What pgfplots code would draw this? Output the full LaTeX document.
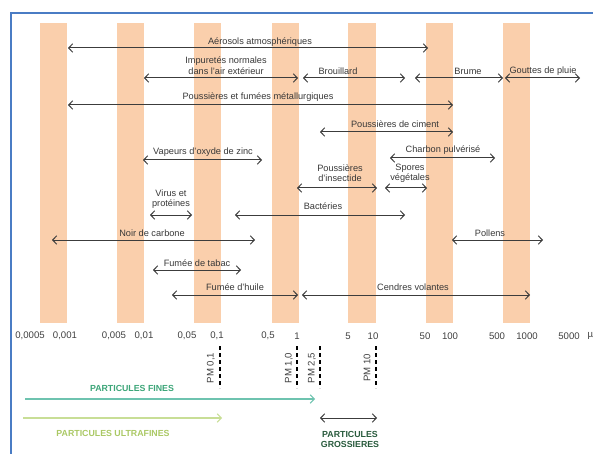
\documentclass[border=0pt]{standalone}
\usepackage{pgfplots}
\pgfplotsset{compat=1.18}
\usepackage{fontspec}
\setmainfont{Liberation Sans}
\usetikzlibrary{arrows.meta}
\definecolor{band}{RGB}{250,207,172}
\definecolor{frameblue}{RGB}{74,124,196}
\definecolor{arr}{RGB}{60,60,60}
\definecolor{fines}{RGB}{60,165,120}
\definecolor{finesarr}{RGB}{110,195,175}
\definecolor{ufines}{RGB}{170,200,100}
\definecolor{ufinesarr}{RGB}{200,222,150}
\definecolor{gross}{RGB}{40,90,60}

\begin{document}
\begin{tikzpicture}
\begin{axis}[
  name=ax,
  scale only axis, width=593pt, height=454pt,
  xmin=0, xmax=593, ymin=0, ymax=454, y dir=reverse,
  hide axis, clip=false,
  every axis plot/.append style={line width=1pt},
  >={Straight Barb[length=4pt,width=8.5pt]},
]
% size bands
\foreach \a/\b in {40/67,117/144,194/221,272/299,348/376,426/453,503/530}{
  \edef\tmp{\noexpand\addplot[fill=band,draw=none,line width=0pt] coordinates {(\a,23) (\b,23) (\b,323) (\a,323)} -- cycle;}
  \tmp
}
% frame
\addplot[draw=frameblue,line width=1.6pt] coordinates {(11,454) (11,13) (593,13)};

% ranges
\addplot[arr,<->] coordinates {(68,48) (428,48)};
\addplot[arr,<->] coordinates {(144,78) (298,78)};
\addplot[arr,<->] coordinates {(303,78) (405,78)};
\addplot[arr,<->] coordinates {(415,78) (503,78)};
\addplot[arr,<->] coordinates {(505,78) (580,78)};
\addplot[arr,<->] coordinates {(68,105) (453,105)};
\addplot[arr,<->] coordinates {(320,132) (453,132)};
\addplot[arr,<->] coordinates {(390,158) (495,158)};
\addplot[arr,<->] coordinates {(143,160) (262,160)};
\addplot[arr,<->] coordinates {(297,188) (377,188)};
\addplot[arr,<->] coordinates {(385,188) (427,188)};
\addplot[arr,<->] coordinates {(150,215) (192,215)};
\addplot[arr,<->] coordinates {(235,215) (405,215)};
\addplot[arr,<->] coordinates {(52,240) (255,240)};
\addplot[arr,<->] coordinates {(452,240) (543,240)};
\addplot[arr,<->] coordinates {(153,270) (241,270)};
\addplot[arr,<->] coordinates {(172,295) (298,295)};
\addplot[arr,<->] coordinates {(302,295) (530,295)};

% PM limits
\addplot[black,line width=1.4pt,dash pattern=on 4pt off 3pt] coordinates {(220,346) (220,388)};
\addplot[black,line width=1.4pt,dash pattern=on 4pt off 3pt] coordinates {(297,346) (297,388)};
\addplot[black,line width=1.4pt,dash pattern=on 4pt off 3pt] coordinates {(320,346) (320,388)};
\addplot[black,line width=1.4pt,dash pattern=on 4pt off 3pt] coordinates {(376,346) (376,388)};

% fine / ultrafine / coarse
\addplot[finesarr,line width=1.1pt,->] coordinates {(25,399) (315,399)};
\addplot[ufinesarr,line width=1.1pt,->] coordinates {(23,418) (222,418)};
\addplot[arr,<->] coordinates {(320,418) (377,418)};

\begin{scope}[font=\fontsize{9.2}{10.5}\selectfont, text=black!78]
\node at (axis cs:260,42) {Aérosols atmosphériques};
\node[align=center] at (axis cs:226,65.5) {Impuretés normales\\dans l'air extérieur};
\node at (axis cs:338,71) {Brouillard};
\node at (axis cs:468,71) {Brume};
\node at (axis cs:543,71) {Gouttes de pluie};
\node at (axis cs:258,97) {Poussières et fumées métallurgiques};
\node at (axis cs:395,124) {Poussières de ciment};
\node at (axis cs:443,150) {Charbon\ pulvérisé};
\node at (axis cs:203,152) {Vapeurs d'oxyde de zinc};
\node[align=center] at (axis cs:340,173) {Poussières\\d'insectide};
\node[align=center] at (axis cs:410,173) {Spores\\végétales};
\node[align=center] at (axis cs:171,199) {Virus et\\protéines};
\node at (axis cs:323,206) {Bactéries};
\node at (axis cs:152,233) {Noir de carbone};
\node at (axis cs:490,233) {Pollens};
\node at (axis cs:197,263) {Fumée de tabac};
\node at (axis cs:235,287) {Fumée d'huile};
\node at (axis cs:413,287) {Cendres volantes};
\end{scope}
\begin{scope}[font=\fontsize{9.6}{11}\selectfont, text=black!75]
% size labels
\node at (axis cs:30,336) {0,0005};
\node at (axis cs:65,336) {0,001};
\node at (axis cs:114,336) {0,005};
\node at (axis cs:144,336) {0,01};
\node at (axis cs:187,336) {0,05};
\node at (axis cs:217,336) {0,1};
\node at (axis cs:268,336) {0,5};
\node at (axis cs:297,336) {1};
\node at (axis cs:348,336) {5};
\node at (axis cs:373,336) {10};
\node at (axis cs:425,336) {50};
\node at (axis cs:450,336) {100};
\node at (axis cs:497,336) {500};
\node at (axis cs:527,336) {1000};
\node at (axis cs:569,336) {5000};
\node[anchor=west] at (axis cs:584,336) {µ};
% PM labels
\node[rotate=90] at (axis cs:211,368) {PM 0,1};
\node[rotate=90] at (axis cs:289,368) {PM 1,0};
\node[rotate=90] at (axis cs:312,368) {PM 2,5};
\node[rotate=90] at (axis cs:367,368) {PM 10};
\end{scope}
\begin{scope}[font=\fontsize{8.8}{10.5}\selectfont\bfseries]
\node[text=fines] at (axis cs:132,388) {PARTICULES FINES};
\node[text=ufines] at (axis cs:113,433) {PARTICULES ULTRAFINES};
\node[text=gross,align=center] at (axis cs:350,439.5) {PARTICULES\\GROSSIERES};
\end{scope}
\end{axis}
\pgfresetboundingbox
\path (ax.south west) rectangle (ax.north east);
\end{tikzpicture}
\end{document}
